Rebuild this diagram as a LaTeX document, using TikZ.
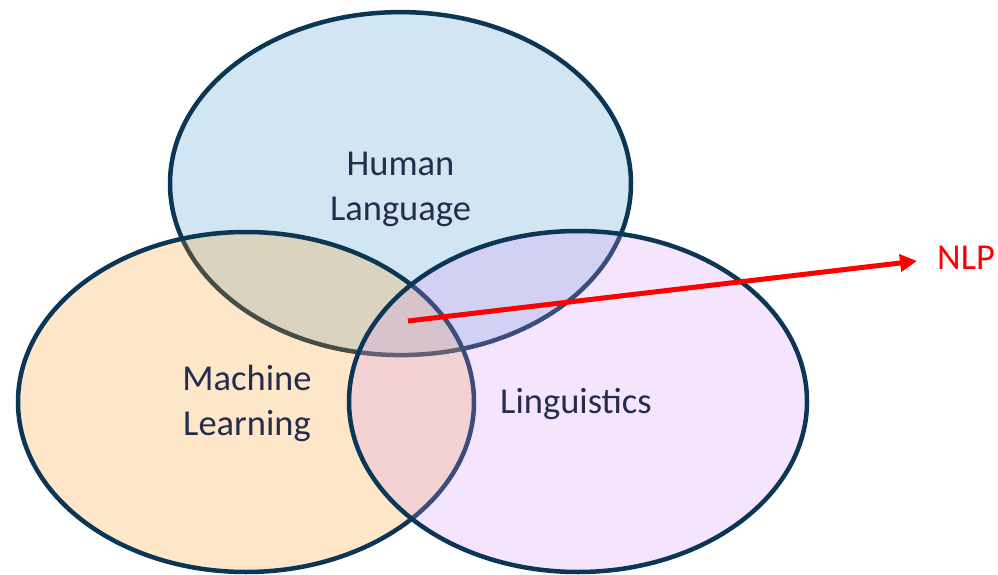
\documentclass[tikz,border=0pt]{standalone}
\usepackage{fontspec}
\setmainfont{Carlito}
\usetikzlibrary{shapes.geometric,arrows.meta}
\definecolor{rim}{RGB}{12,54,86}
\definecolor{topfill}{RGB}{67,147,205}
\definecolor{leftfill}{RGB}{247,155,26}
\definecolor{rightfill}{RGB}{213,147,247}
\definecolor{txt}{RGB}{37,45,78}
\definecolor{nlpred}{RGB}{255,0,0}
\begin{document}
\begin{tikzpicture}[x=1pt,y=-1pt,
  setcircle/.style={ellipse, draw=rim, line width=4.5pt, fill opacity=0.24, draw opacity=1, inner sep=0pt},
  label/.style={text=txt, font=\fontsize{36.5}{45}\selectfont, align=center, inner sep=0pt},
  nlparrow/.style={draw=nlpred, line width=5pt, -{Triangle[length=17pt,width=17pt]}}]
\useasboundingbox[fill=white] (0,0) rectangle (998,575);
\node[setcircle, fill=topfill, minimum width=461pt, minimum height=343pt] (hl) at (400.5,183.6) {};
\node[setcircle, fill=leftfill, minimum width=456pt, minimum height=340pt] (ml) at (246,402) {};
\node[setcircle, fill=rightfill, minimum width=458pt, minimum height=341pt] (li) at (578,401.5) {};
\node[label, anchor=base] (thl) at (400.5,220) {Human\\Language};
\node[label, anchor=base] (tml) at (247,435) {Machine\\Learning};
\node[label, anchor=base] (tli) at (576,413) {Linguistics};
\node[text=nlpred, font=\fontsize{36.5}{45}\selectfont, inner sep=0pt, anchor=base west] (nlp) at (937,269) {NLP};
\coordinate (start) at (408,321);
\coordinate (tip) at (917,261);
\draw[nlparrow] (start) -- (tip);
\end{tikzpicture}
\end{document}
